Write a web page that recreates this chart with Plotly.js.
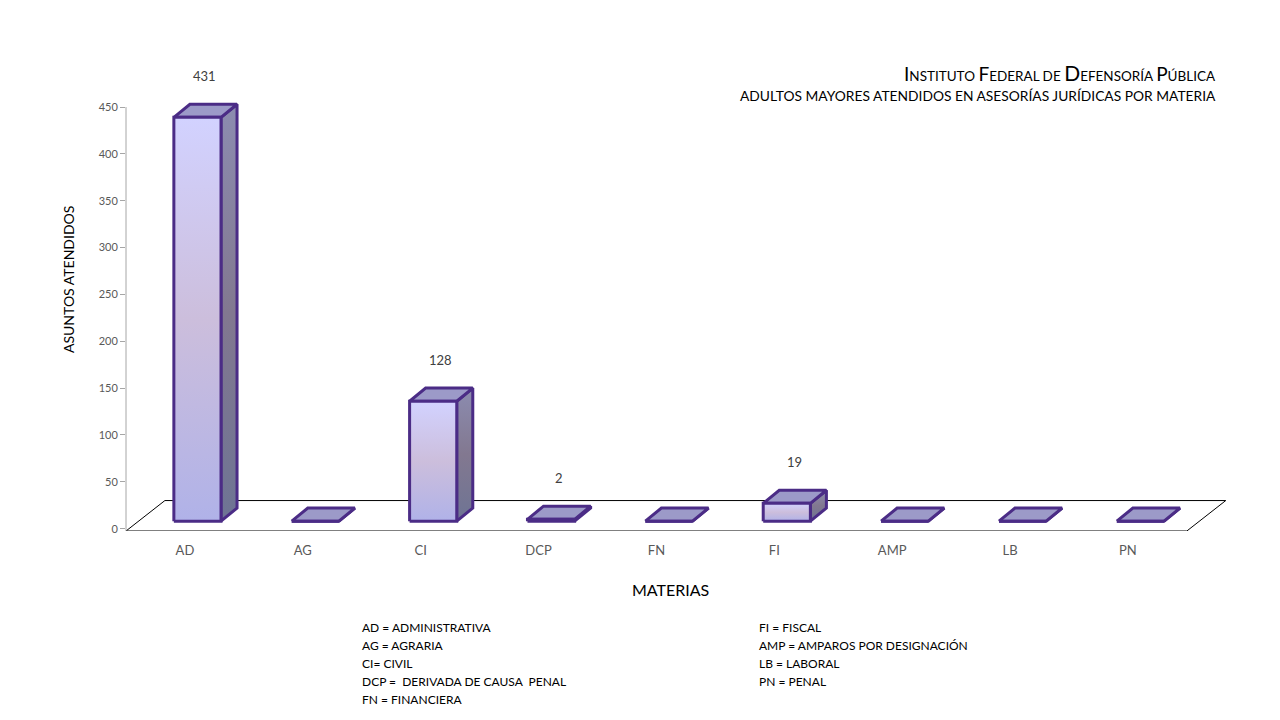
<!DOCTYPE html>
<html>
<head>
<meta charset="utf-8">
<script src="https://cdn.plot.ly/plotly-3.0.1.min.js"></script>
<style>html,body{margin:0;padding:0;background:#fff;}#chart{width:1280px;height:720px;}</style>
</head>
<body>
<div id="chart"></div>
<script>
// ---- data ----
const categories = ["AD", "AG", "CI", "DCP", "FN", "FI", "AMP", "LB", "PN"];
const values = [431, 0, 128, 2, 0, 19, 0, 0, 0];
const yTickVals = [0, 50, 100, 150, 200, 250, 300, 350, 400, 450];
const titleLine1 = "<span style='font-size:19px'>I</span>NSTITUTO <span style='font-size:19px'>F</span>EDERAL DE <span style='font-size:21px'>D</span>EFENSORÍA <span style='font-size:19px'>P</span>ÚBLICA";
const titleLine2 = "ADULTOS MAYORES ATENDIDOS EN ASESORÍAS JURÍDICAS POR MATERIA";
const notesLeft = ["AD = ADMINISTRATIVA", "AG = AGRARIA", "CI= CIVIL", "DCP =  DERIVADA DE CAUSA  PENAL", "FN = FINANCIERA"];
const notesRight = ["FI = FISCAL", "AMP = AMPAROS POR DESIGNACIÓN", "LB = LABORAL", "PN = PENAL"];

// ---- 3D look (style constants) ----
const FONT = "Lato, 'Open Sans', sans-serif";
const OUTLINE = "#4B2C86";
const HALF_W = 0.2, OFF_X = 0.106, BASE = 8, DEPTH_X = 0.136, DEPTH_Y = 14;
const FLOOR_FRONT = -2.5, FLOOR_BACK = 30, FLOOR_DX = 0.33;
const LABEL_DX = 0.17, LABEL_SHIFT_PX = 41;

const ML = 126, MR = 46, MT = 93, MB = 189, W = 1280, H = 720;
const PW = W - ML - MR, PH = H - MT - MB;
const px2x = px => (px - ML) / PW;
const px2y = py => (H - MB - py) / PH;

const traces = [];
const n = categories.length;
// floor
traces.push({
  type: "scatter", mode: "lines", hoverinfo: "skip", showlegend: false,
  x: [-0.5, n - 0.5, n - 0.5 + FLOOR_DX, -0.5 + FLOOR_DX, -0.5],
  y: [FLOOR_FRONT, FLOOR_FRONT, FLOOR_BACK, FLOOR_BACK, FLOOR_FRONT],
  fill: "toself", fillcolor: "#ffffff", line: {color: "#000000", width: 1}
});
const annotations = [];
values.forEach((v, i) => {
  const xl = i + OFF_X - HALF_W, xr = i + OFF_X + HALF_W;
  const yb = BASE, yt = BASE + v;
  // side face
  traces.push({
    type: "scatter", mode: "lines", hoverinfo: "skip", showlegend: false,
    x: [xr, xr + DEPTH_X, xr + DEPTH_X, xr, xr],
    y: [yb, yb + DEPTH_Y, yt + DEPTH_Y, yt, yb],
    fill: "toself",
    fillcolor: "#7E7A98",
    fillgradient: {type: "vertical", colorscale: [[0, "#6E7494"], [0.5, "#827890"], [1, "#8C8CB0"]]},
    line: {color: OUTLINE, width: 3}
  });
  // top face
  traces.push({
    type: "scatter", mode: "lines", hoverinfo: "skip", showlegend: false,
    x: [xl, xr, xr + DEPTH_X, xl + DEPTH_X, xl],
    y: [yt, yt, yt + DEPTH_Y, yt + DEPTH_Y, yt],
    fill: "toself", fillcolor: "#9C9AC8",
    line: {color: OUTLINE, width: 3}
  });
  // front face
  traces.push({
    type: "scatter", mode: "lines", hoverinfo: "skip", showlegend: false,
    x: [xl, xr, xr, xl, xl],
    y: [yb, yb, yt, yt, yb],
    fill: "toself",
    fillcolor: "#C6BEE0",
    fillgradient: {type: "vertical", colorscale: [[0, "#B0B2E8"], [0.5, "#CCBEDC"], [1, "#D2D2FF"]]},
    line: {color: OUTLINE, width: 3}
  });
  if (v > 0) {
    annotations.push({
      text: String(v), xref: "x", yref: "y", x: i + LABEL_DX, y: yt, yshift: LABEL_SHIFT_PX,
      showarrow: false, xanchor: "center", yanchor: "middle",
      font: {family: FONT, size: 13, color: "#404040"}
    });
  }
});

annotations.push(
  {text: "ASUNTOS ATENDIDOS", textangle: -90, xref: "paper", yref: "paper",
   x: px2x(68), y: px2y(280), showarrow: false, xanchor: "center", yanchor: "middle",
   font: {family: FONT, size: 14, color: "#000"}},
  {text: "MATERIAS", xref: "paper", yref: "paper", x: px2x(670), y: px2y(589),
   showarrow: false, xanchor: "center", yanchor: "middle",
   font: {family: FONT, size: 16, color: "#000"}},
  {text: titleLine1, xref: "paper", yref: "paper", x: px2x(1218), y: px2y(72),
   showarrow: false, xanchor: "right", yanchor: "middle",
   font: {family: FONT, size: 13.5, color: "#000"}},
  {text: titleLine2, xref: "paper", yref: "paper", x: px2x(1218), y: px2y(95),
   showarrow: false, xanchor: "right", yanchor: "middle",
   font: {family: FONT, size: 13.8, color: "#000"}}
);
notesLeft.forEach((t, k) => annotations.push({
  text: t, xref: "paper", yref: "paper", x: px2x(360), y: px2y(627 + 18 * k),
  showarrow: false, xanchor: "left", yanchor: "middle",
  font: {family: FONT, size: 12, color: "#000"}
}));
notesRight.forEach((t, k) => annotations.push({
  text: t, xref: "paper", yref: "paper", x: px2x(757), y: px2y(627 + 18 * k),
  showarrow: false, xanchor: "left", yanchor: "middle",
  font: {family: FONT, size: 12, color: "#000"}
}));

const layout = {
  width: W, height: H,
  margin: {l: ML, r: MR, t: MT, b: MB, pad: 0},
  paper_bgcolor: "#ffffff", plot_bgcolor: "rgba(0,0,0,0)",
  showlegend: false,
  font: {family: FONT},
  xaxis: {
    range: [-0.5, n - 0.5 + 0.4], tickvals: categories.map((c, i) => i), ticktext: categories,
    showgrid: false, zeroline: false, showline: false, ticks: "", ticklabelstandoff: 10,
    tickfont: {family: FONT, size: 13, color: "#595959"}, fixedrange: true
  },
  yaxis: {
    range: [FLOOR_FRONT, 465], tickvals: yTickVals, ticktext: yTickVals.map(String),
    showgrid: false, zeroline: false, showline: false,
    ticks: "outside", ticklen: 5, tickcolor: "#A6A6A6", tickwidth: 1,
    tickfont: {family: FONT, size: 11, color: "#595959"}, fixedrange: true
  },
  shapes: [{
    type: "line", xref: "paper", x0: 0, x1: 0, yref: "y",
    y0: FLOOR_FRONT, y1: Math.max(...yTickVals),
    line: {color: "#A6A6A6", width: 1}
  }],
  annotations: annotations
};

Plotly.newPlot("chart", traces, layout, {displayModeBar: false, staticPlot: true});
</script>
</body>
</html>
